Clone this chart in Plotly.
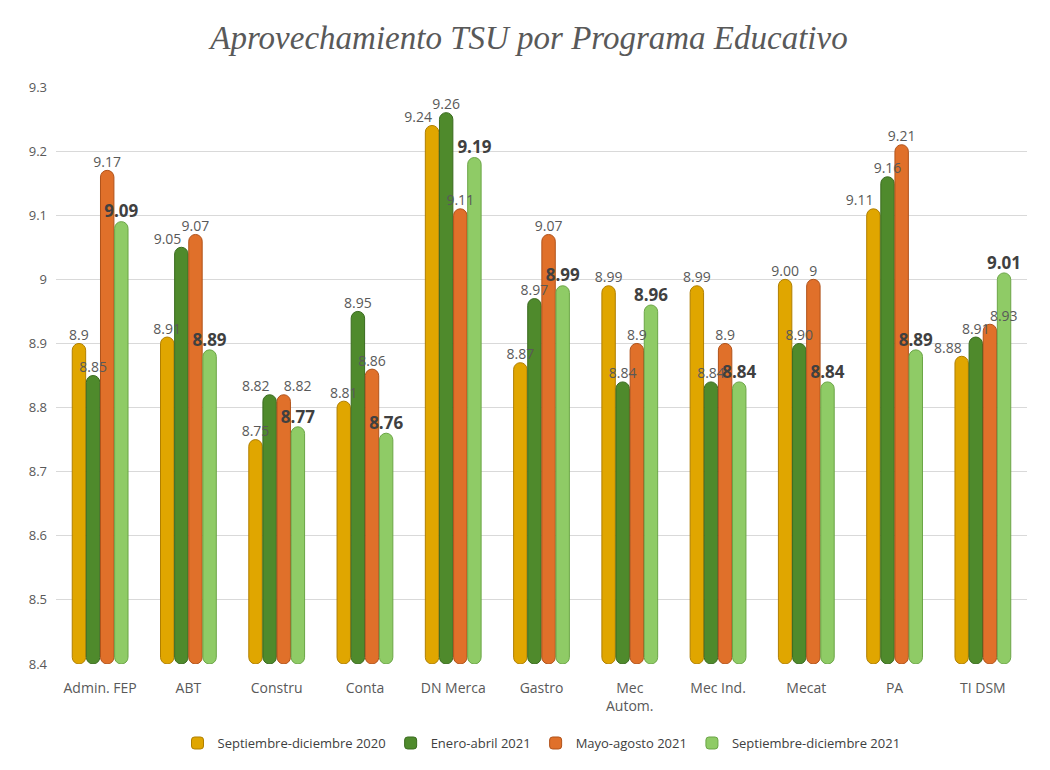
import plotly.graph_objects as go

# programas educativos
programas = ["Admin. FEP", "ABT", "Constru", "Conta", "DN Merca", "Gastro",
             "Mec<br>Autom.", "Mec Ind.", "Mecat", "PA", "TI DSM"]

# periodos
periodos = ["Septiembre-diciembre 2020", "Enero-abril 2021",
            "Mayo-agosto 2021", "Septiembre-diciembre 2021"]

sep_dic_2020 = [8.90, 8.91, 8.75, 8.81, 9.24, 8.87, 8.99, 8.99, 9.00, 9.11, 8.88]
ene_abr_2021 = [8.85, 9.05, 8.82, 8.95, 9.26, 8.97, 8.84, 8.84, 8.90, 9.16, 8.91]
may_ago_2021 = [9.17, 9.07, 8.82, 8.86, 9.11, 9.07, 8.90, 8.90, 9.00, 9.21, 8.93]
sep_dic_2021 = [9.09, 8.89, 8.77, 8.76, 9.19, 8.99, 8.96, 8.84, 8.84, 8.89, 9.01]

# etiquetas tal como aparecen en la grafica
txt_2020 = ["8.9", "8.91", "8.75", "8.81", "9.24", "8.87", "8.99", "8.99", "9.00", "9.11", "8.88"]
txt_ene = ["8.85", "9.05", "8.82", "8.95", "9.26", "8.97", "8.84", "8.84", "8.90", "9.16", "8.91"]
txt_may = ["9.17", "9.07", "8.82", "8.86", "9.11", "9.07", "8.9", "8.9", "9", "9.21", "8.93"]
txt_2021 = ["9.09", "8.89", "8.77", "8.76", "9.19", "8.99", "8.96", "8.84", "8.84", "8.89", "9.01"]

colores = ["#E0A600", "#4F8A2C", "#E0702A", "#8FCB66"]
bordes = ["#B07F00", "#3A6B1F", "#B0521A", "#6BA546"]

series = [sep_dic_2020, ene_abr_2021, may_ago_2021, sep_dic_2021]
textos = [txt_2020, txt_ene, txt_may, txt_2021]

# donde va cada etiqueta (para que no se encimen)
tc = "top center"
tl = "top left"
tr = "top right"
pos_sep = [tc, tc, tc, tc, tl, tc, tc, tc, tc, tl, tl]
pos_ene = [tc, tl, tl, tc, tc, tc, tc, tc, tc, tc, tc]
pos_may = [tc, tc, tr, tc, tc, tc, tc, tc, tc, tc, tr]
posiciones = [pos_sep, pos_ene, pos_may, tc]

fig = go.Figure()

# barras
for i in range(4):
    fig.add_trace(
        go.Bar(
            name=periodos[i],
            x=programas,
            y=[v - 8.4 for v in series[i]],
            base=8.4,
            offsetgroup=str(i),
            customdata=textos[i],
            hovertemplate="%{x}: %{customdata}<extra></extra>",
            marker=dict(color=colores[i], line=dict(color=bordes[i], width=1),
                        cornerradius="50%"),
        )
    )

# etiquetas encima de todas las barras
for i in range(4):
    if i == 3:
        tf = dict(size=17, color="#404040", family="Open Sans", weight="bold")
    else:
        tf = dict(size=14, color="#595959", family="Open Sans")
    fig.add_trace(
        go.Scatter(
            x=programas,
            y=series[i],
            mode="text",
            text=textos[i],
            textposition=posiciones[i],
            textfont=tf,
            offsetgroup=str(i),
            showlegend=False,
            hoverinfo="skip",
            cliponaxis=False,
        )
    )

# la pagina tiene 8px de margen en body, por eso 1042x762
fig.update_layout(
    width=1042,
    height=762,
    barmode="group",
    bargap=0.36,
    bargroupgap=0.05,
    scattermode="group",
    scattergap=0.36,
    paper_bgcolor="white",
    plot_bgcolor="white",
    margin=dict(l=48, r=23, t=79, b=100),
    title=dict(
        text="Aprovechamiento TSU por Programa Educativo",
        x=0.5,
        xanchor="center",
        y=0.961,
        yanchor="middle",
        font=dict(family="Liberation Serif", size=33, color="#595959", style="italic"),
    ),
    legend=dict(
        orientation="h",
        x=0.5,
        xanchor="center",
        y=-0.137,
        yanchor="middle",
        font=dict(family="Open Sans", size=13, color="#404040"),
    ),
    font=dict(family="Open Sans", color="#595959"),
)

fig.update_yaxes(
    range=[8.4, 9.3],
    dtick=0.1,
    tick0=8.4,
    showgrid=True,
    gridcolor="#D9D9D9",
    gridwidth=1,
    zeroline=False,
    tickfont=dict(size=13, color="#595959"),
    ticklabelstandoff=8,
)

fig.update_xaxes(
    tickfont=dict(size=14, color="#595959"),
    showline=False,
    ticklabelstandoff=14,
)

fig.write_html("out.html")
